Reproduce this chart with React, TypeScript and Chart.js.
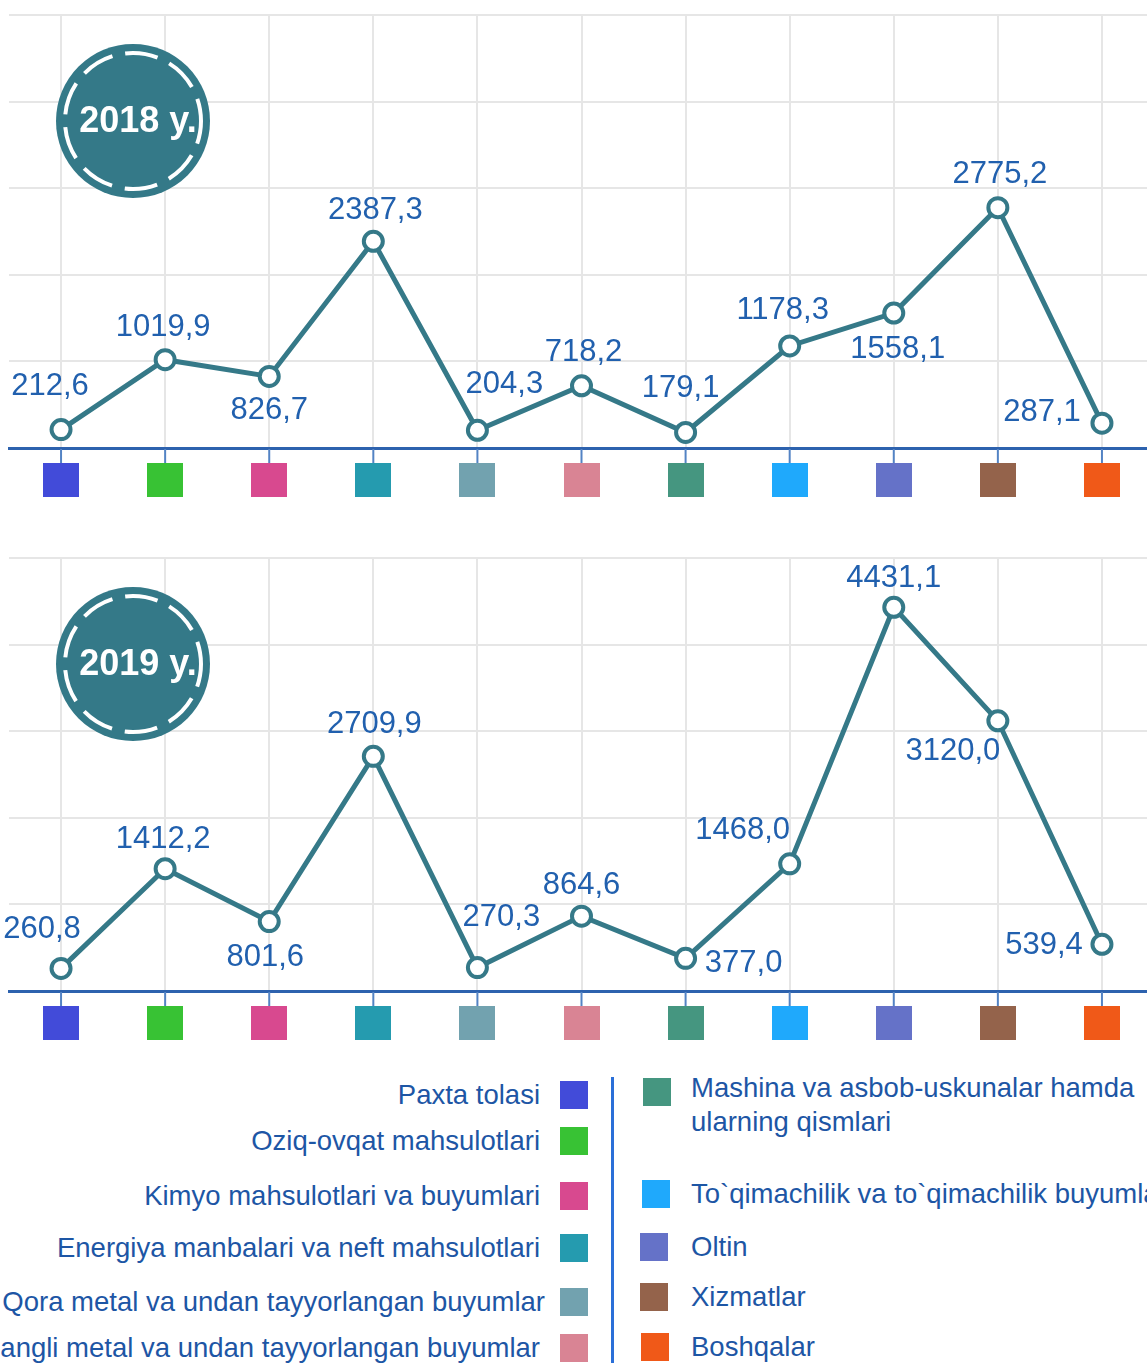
import React, { useEffect, useRef } from "react";
import { Chart, registerables } from "chart.js";

Chart.register(...registerables);

const categories = [
  "Paxta tolasi",
  "Oziq-ovqat mahsulotlari",
  "Kimyo mahsulotlari va buyumlari",
  "Energiya manbalari va neft mahsulotlari",
  "Qora metal va undan tayyorlangan buyumlar",
  "Rangli metal va undan tayyorlangan buyumlar",
  "Mashina va asbob-uskunalar hamda ularning qismlari",
  "To`qimachilik va to`qimachilik buyumlari",
  "Oltin",
  "Xizmatlar",
  "Boshqalar",
];
const categoryColors = [
  "#424bd9", "#38c234", "#d8498f", "#259baf", "#72a2af", "#d98494",
  "#459680", "#1fa9fc", "#6572c8", "#94634b", "#f05918",
];
const values2018 = [212.6, 1019.9, 826.7, 2387.3, 204.3, 718.2, 179.1, 1178.3, 1558.1, 2775.2, 287.1];
const values2019 = [260.8, 1412.2, 801.6, 2709.9, 270.3, 864.6, 377.0, 1468.0, 4431.1, 3120.0, 539.4];
const yMax = 5000;
const yStep = 1000;

// label placement offsets (dx, dy) relative to each point
const labelOffsets2018: [number, number][] = [
  [-11, -43], [-2, -32], [0, 34], [2, -31], [27, -46], [2, -33],
  [-5, -44], [-7, -36], [4, 36], [2, -33], [-60, -11],
];
const labelOffsets2019: [number, number][] = [
  [-19, -39], [-2, -29], [-4, 36], [1, -32], [24, -50], [0, -31],
  [58, 5], [-47, -33], [0, -29], [-45, 31], [-58, 1],
];

const TEAL = "#357988";
const LABEL_BLUE = "#2160ae";
const FONT = "'Liberation Sans', Arial, sans-serif";
const CW = 1160;
const CH = 510;

function fmt(v: number) {
  return v.toFixed(1).replace(".", ",");
}

function LineChart({ values, offsets, year, top }: { values: number[]; offsets: [number, number][]; year: string; top: number }) {
  const ref = useRef<HTMLCanvasElement>(null);
  useEffect(() => {
    const canvas = ref.current!;
    const decor = {
      id: "decor",
      beforeDatasetsDraw(chart: any) {
        const ctx = chart.ctx;
        ctx.save();
        const cx = 133, cy = 121;
        ctx.beginPath();
        ctx.arc(cx, cy, 77, 0, Math.PI * 2);
        ctx.fillStyle = "#347988";
        ctx.fill();
        ctx.beginPath();
        ctx.setLineDash([33, 13]);
        ctx.lineDashOffset = 10;
        ctx.arc(cx, cy, 68, 0, Math.PI * 2);
        ctx.strokeStyle = "#ffffff";
        ctx.lineWidth = 4;
        ctx.stroke();
        ctx.setLineDash([]);
        ctx.fillStyle = "#ffffff";
        ctx.font = `bold 36px ${FONT}`;
        ctx.textAlign = "center";
        ctx.textBaseline = "middle";
        ctx.fillText(year, cx + 5, cy + 1);
        ctx.restore();
      },
      afterDatasetsDraw(chart: any) {
        const ctx = chart.ctx;
        const meta = chart.getDatasetMeta(0);
        ctx.save();
        ctx.font = `31px ${FONT}`;
        ctx.fillStyle = LABEL_BLUE;
        ctx.textAlign = "center";
        ctx.textBaseline = "middle";
        meta.data.forEach((pt: any, i: number) => {
          const [dx, dy] = offsets[i];
          ctx.fillText(fmt(values[i]), pt.x + dx, pt.y + dy);
        });
        ctx.restore();
      },
      afterDraw(chart: any) {
        const ctx = chart.ctx;
        const xs = chart.scales.x;
        const bottom = chart.chartArea.bottom;
        ctx.save();
        categories.forEach((_, i) => {
          const x = xs.getPixelForValue(i);
          ctx.strokeStyle = "#5383c4";
          ctx.lineWidth = 2;
          ctx.beginPath();
          ctx.moveTo(x, bottom + 1);
          ctx.lineTo(x, bottom + 15);
          ctx.stroke();
          ctx.fillStyle = categoryColors[i];
          ctx.fillRect(Math.round(x - 18), bottom + 15, 36, 34);
        });
        ctx.restore();
      },
    };
    const chart = new Chart(canvas, {
      type: "line",
      data: {
        labels: categories,
        datasets: [
          {
            data: values,
            borderColor: TEAL,
            borderWidth: 5,
            pointRadius: 9.5,
            pointBorderWidth: 4,
            pointBackgroundColor: "#ffffff",
            pointBorderColor: TEAL,
            tension: 0,
            clip: false,
          },
        ],
      },
      options: {
        responsive: false,
        animation: false,
        devicePixelRatio: 1,
        layout: { autoPadding: false, padding: { left: 9, right: 6, top: 15, bottom: 62 } },
        plugins: { legend: { display: false }, tooltip: { enabled: false } },
        scales: {
          x: {
            offset: true,
            ticks: { display: false },
            grid: { offset: false, color: "#e6e6e6", lineWidth: 2, drawTicks: false },
            border: { display: true, color: "#2d62ae", width: 3 },
          },
          y: {
            min: 0,
            max: yMax,
            ticks: { display: false, stepSize: yStep },
            grid: { color: "#e6e6e6", lineWidth: 2, drawTicks: false },
            border: { display: false },
          },
        },
      },
      plugins: [decor],
    } as any);
    return () => chart.destroy();
  }, []);
  return (
    <canvas
      ref={ref}
      width={CW}
      height={CH}
      style={{ position: "absolute", left: 0, top, width: CW, height: CH }}
    />
  );
}

const leftItems = [0, 1, 2, 3, 4, 5];
const leftCenters = [1095, 1141, 1196, 1248, 1302, 1348];
const rightItems = [6, 7, 8, 9, 10];
const rightCenters = [1092, 1194, 1247, 1297, 1347];
const rightSquareX = [643, 642, 640, 640, 641];

export default function App() {
  const textStyle: React.CSSProperties = {
    position: "absolute",
    fontFamily: FONT,
    fontSize: 27.5,
    color: "#1d56a5",
    whiteSpace: "nowrap",
    lineHeight: "34px",
  };
  return (
    <div style={{ position: "fixed", left: 0, top: 0, width: 1147, height: 1363, overflow: "hidden", background: "#fff" }}>
      <LineChart values={values2018} offsets={labelOffsets2018} year="2018 y." top={0} />
      <LineChart values={values2019} offsets={labelOffsets2019} year="2019 y." top={543} />
      {leftItems.map((idx, k) => (
        <React.Fragment key={"l" + idx}>
          <div style={{ ...textStyle, right: 1147 - (idx === 4 ? 545 : 540), top: leftCenters[k] - 17, textAlign: "right" }}>
            {categories[idx]}
          </div>
          <div style={{ position: "absolute", left: 560, top: leftCenters[k] - 14, width: 28, height: 28, background: categoryColors[idx] }} />
        </React.Fragment>
      ))}
      <div style={{ position: "absolute", left: 611, top: 1077, width: 3, height: 300, background: "#2a6fd8" }} />
      {rightItems.map((idx, k) => (
        <React.Fragment key={"r" + idx}>
          <div style={{ position: "absolute", left: rightSquareX[k], top: rightCenters[k] - 14, width: 28, height: 28, background: categoryColors[idx] }} />
          <div style={{ ...textStyle, left: 691, top: (idx === 6 ? 1088 : rightCenters[k]) - 17, whiteSpace: idx === 6 ? "normal" : "nowrap", width: idx === 6 ? 450 : undefined }}>
            {categories[idx]}
          </div>
        </React.Fragment>
      ))}
    </div>
  );
}
